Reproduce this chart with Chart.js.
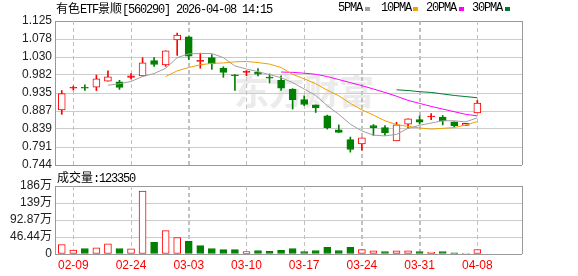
<!DOCTYPE html>
<html><head><meta charset="utf-8">
<script src="https://cdn.jsdelivr.net/npm/chart.js@4.4.1/dist/chart.umd.min.js"></script>
<style>
html,body{margin:0;padding:0;background:#fff;width:578px;height:276px;overflow:hidden;}
#wrap{position:relative;width:578px;height:276px;}
canvas{position:absolute;left:0;top:0;}
.t{position:absolute;font-family:"Liberation Mono",monospace;font-size:12px;letter-spacing:-1.2px;color:#000;white-space:nowrap;line-height:14px;}
.c{font-family:"Noto Sans CJK SC";letter-spacing:0;}
.sq{position:absolute;width:5px;height:4px;}
#wm{position:absolute;left:234px;top:70px;font-family:"Noto Sans CJK SC";font-weight:700;font-size:35px;line-height:40px;color:#ebebeb;letter-spacing:0px;white-space:nowrap;}
</style></head>
<body><div id="wrap">
<div id="wm">东方财富</div>
<canvas id="c1" width="578" height="276"></canvas>
<canvas id="c2" width="578" height="276"></canvas>
<div class="t" style="left:56px;top:1px"><span class="c">有色</span>ETF<span class="c">景顺</span>[560290] 2026-04-08 14:15</div>
<div class="t" style="left:338px;top:1px">5PMA</div><div class="sq" style="left:365px;top:7px;background:#a0a0a0"></div>
<div class="t" style="left:381px;top:1px">10PMA</div><div class="sq" style="left:413px;top:7px;background:#f0a000"></div>
<div class="t" style="left:426px;top:1px">20PMA</div><div class="sq" style="left:459px;top:7px;background:#ff00ff"></div>
<div class="t" style="left:472px;top:1px">30PMA</div><div class="sq" style="left:505px;top:7px;background:#007a30"></div>
<div class="t" id="vt" style="left:57px;top:170px"></div>
</div>
<script>
const dates = ['02-06','02-09','02-10','02-11','02-12','02-13','02-24','02-25','02-26','02-27','03-02','03-03','03-04','03-05','03-06','03-09','03-10','03-11','03-12','03-13','03-16','03-17','03-18','03-19','03-20','03-23','03-24','03-25','03-26','03-27','03-30','03-31','04-01','04-02','04-03','04-07','04-08'];
const xTickLabels = ['02-09','02-24','03-03','03-10','03-17','03-24','03-31','04-08'];
const open  = [0.890,0.947,0.948,0.950,0.966,0.964,0.976,0.980,1.020,1.009,1.075,1.083,1.018,1.028,1.000,0.981,0.989,0.989,0.975,0.968,0.945,0.917,0.903,0.874,0.837,0.811,0.800,0.848,0.843,0.808,0.852,0.864,0.871,0.871,0.858,0.849,0.882];
const close = [0.933,0.948,0.947,0.972,0.977,0.949,0.980,1.014,1.010,1.046,1.088,1.032,1.019,1.012,0.989,0.980,0.990,0.984,0.974,0.947,0.917,0.904,0.896,0.843,0.830,0.785,0.816,0.843,0.829,0.850,0.866,0.857,0.872,0.861,0.848,0.854,0.908];
const high  = [0.941,0.953,0.956,0.982,0.993,0.968,0.986,1.028,1.028,1.046,1.093,1.084,1.040,1.036,1.004,0.983,0.994,0.999,0.985,0.980,0.946,0.927,0.903,0.876,0.850,0.818,0.816,0.851,0.848,0.857,0.866,0.874,0.880,0.875,0.858,0.854,0.915];
const low   = [0.878,0.942,0.941,0.941,0.966,0.944,0.972,0.979,1.005,1.005,1.034,1.023,1.000,0.997,0.976,0.941,0.980,0.980,0.961,0.941,0.892,0.901,0.883,0.839,0.830,0.778,0.783,0.822,0.822,0.808,0.841,0.852,0.864,0.850,0.845,0.849,0.882];
const ma5  = [null,null,null,null,0.955,0.959,0.965,0.978,0.986,1.000,1.028,1.038,1.039,1.039,1.028,1.006,0.998,0.991,0.983,0.975,0.962,0.945,0.928,0.901,0.878,0.852,0.834,0.823,0.821,0.825,0.841,0.849,0.855,0.861,0.861,0.858,0.869];
const ma10 = [null,null,null,null,null,null,null,null,null,0.978,0.993,1.002,1.009,1.013,1.014,1.017,1.018,1.015,1.011,1.002,0.984,0.972,0.959,0.942,0.927,0.907,0.890,0.876,0.861,0.851,0.846,0.842,0.839,0.841,0.843,0.850,0.859];
const ma20 = [null,null,null,null,null,null,null,null,null,null,null,null,null,null,null,null,null,null,null,0.990,0.989,0.987,0.984,0.978,0.970,0.962,0.954,0.945,0.936,0.926,0.915,0.907,0.899,0.892,0.885,0.878,0.874];
const ma30 = [null,null,null,null,null,null,null,null,null,null,null,null,null,null,null,null,null,null,null,null,null,null,null,null,null,null,null,null,null,0.943,0.941,0.938,0.936,0.932,0.928,0.925,0.922];
const volume = [260000,110000,150000,170000,280000,150000,140000,1720000,320000,640000,450000,350000,230000,150000,120000,120000,65000,95000,75000,100000,150000,65000,95000,180000,95000,180000,120000,85000,65000,85000,85000,65000,55000,65000,35000,15000,123350];
const priceTickLabels = ['0.744','0.791','0.839','0.887','0.935','0.982','1.030','1.078','1.125'];
const volTickLabels = ['0','46.44万','92.87万','139万','186万'];
const priceMin = 0.744, priceMax = 1.125;
const volMin = 0, volMax = 1857500;

document.getElementById('vt').innerHTML = '<span class="c">成交量</span>:' + volume[volume.length-1];

const RED = '#ff0000', GREEN = '#008000';
const idx = dates.map((d,i)=>i);
const up = idx.map(i => close[i] >= open[i]);
const cCol = up.map(u => u ? RED : GREEN);
const bodyFill = idx.map(i => up[i] ? (Math.abs(close[i]-open[i]) < 0.0045 ? RED : '#ffffff') : GREEN);
const volUp = idx.map(i => i === 0 ? up[0] : close[i] >= close[i-1]);
const vCol = volUp.map(u => u ? RED : GREEN);
const vFill = volUp.map(u => u ? '#ffffff' : GREEN);
const tickIdx = xTickLabels.map(l => dates.indexOf(l));

const xMin = -0.586, xMax = 39.87;
const FONT = {family:'"Liberation Sans","Noto Sans CJK SC"', size:12};

function xAxis(show) {
  return {
    type:'linear', min:xMin, max:xMax, offset:false, bounds:'data',
    afterBuildTicks: s => { s.ticks = tickIdx.map(v => ({value:v})); },
    ticks:{display:show, autoSkip:false, maxRotation:0, color:'#ff0000', font:FONT, padding:4,
      callback: v => dates[v]},
    grid:{display:true, color:'#c0c0c0', lineWidth:1, drawTicks:false, offset:false},
    border:{display:false, dash:[4,3]},
    afterFit: s => { s.height = show ? 22 : 0; s.paddingLeft = 0; s.paddingRight = 0; }
  };
}
function yAxis(min, max, labels) {
  return {
    type:'linear', position:'left', min, max,
    afterBuildTicks: s => { s.ticks = labels.map((l,k) => ({value: min + k*(max-min)/(labels.length-1)})); },
    ticks:{color:'#222', font:FONT, padding:3, autoSkip:false, callback:(v,i) => labels[i]},
    grid:{drawTicks:false, lineWidth:1, color: c => (c.index === 0 || c.index === labels.length-1) ? '#999999' : '#cccccc'},
    border:{display:true, color:'#999999'},
    afterFit: s => { s.width = 55; }
  };
}
const frame = {
  id:'frame',
  beforeDatasetsDraw(chart) {
    const a = chart.chartArea, ctx = chart.ctx, xs = chart.scales.x;
    ctx.save(); ctx.strokeStyle = '#c0c0c0'; ctx.lineWidth = 1; ctx.setLineDash([4,3]);
    xs.ticks.forEach(t => {
      const px = Math.round(xs.getPixelForValue(t.value)) + 0.5;
      ctx.beginPath(); ctx.moveTo(px, a.top); ctx.lineTo(px, a.bottom); ctx.stroke();
    });
    ctx.restore();
  },
  afterDraw(chart) {
    const a = chart.chartArea, ctx = chart.ctx;
    ctx.save(); ctx.strokeStyle = '#999999'; ctx.lineWidth = 1;
    ctx.beginPath(); ctx.moveTo(Math.round(a.right)+0.5, a.top); ctx.lineTo(Math.round(a.right)+0.5, a.bottom); ctx.stroke();
    ctx.restore();
  }
};
const common = {
  responsive:false, animation:false, devicePixelRatio:1,
  plugins:{legend:{display:false}, tooltip:{enabled:false}, title:{display:false}},
  events:[]
};
function line(data, color) {
  return {type:'line', data: idx.filter(i => data[i] !== null).map(i => ({x:i, y:data[i]})),
    borderColor:color, borderWidth:1, pointRadius:0, tension:0, fill:false, order:0};
}

new Chart(document.getElementById('c1'), {
  data:{datasets:[
    {type:'bar', data: idx.map(i => ({x:i, y:[low[i], high[i]]})), backgroundColor:cCol, borderWidth:0, barThickness:1, grouped:false, order:3},
    {type:'bar', data: idx.map(i => ({x:i, y:[open[i], close[i]]})), backgroundColor:bodyFill, borderColor:cCol, borderWidth:1, borderSkipped:false, barThickness:7, minBarLength:1, grouped:false, order:2},
    line(ma5, '#a0a0a0'), line(ma10, '#f0a000'), line(ma20, '#ff00ff'), line(ma30, '#007a30')
  ]},
  options:Object.assign({}, common, {
    layout:{padding:{top:21, bottom:111, left:0, right:56}},
    scales:{x:xAxis(false), y:yAxis(priceMin, priceMax, priceTickLabels)}
  }),
  plugins:[frame]
});

new Chart(document.getElementById('c2'), {
  data:{datasets:[
    {type:'bar', data: idx.map(i => ({x:i, y:volume[i]})), backgroundColor:vFill, borderColor:vCol, borderWidth:1, borderSkipped:false, barThickness:7, grouped:false}
  ]},
  options:Object.assign({}, common, {
    layout:{padding:{top:186, bottom:0, left:0, right:56}},
    scales:{x:xAxis(true), y:yAxis(volMin, volMax, volTickLabels)}
  }),
  plugins:[frame]
});
</script>
</body></html>
